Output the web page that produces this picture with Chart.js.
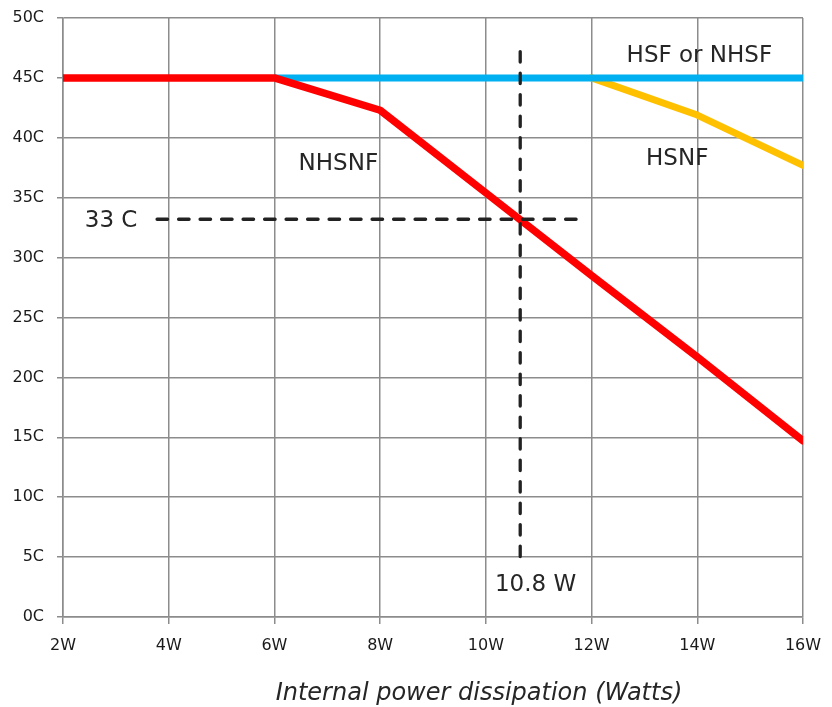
<!DOCTYPE html>
<html>
<head>
<meta charset="utf-8">
<script src="https://cdn.jsdelivr.net/npm/chart.js@4/dist/chart.umd.min.js"></script>
<style>
  html, body { margin: 0; padding: 0; background: #ffffff; }
  #wrap { width: 832px; height: 707px; }
</style>
</head>
<body>
<div id="wrap"><canvas id="c" width="832" height="707"></canvas></div>
<script>
// ---- data ----
const xTicks = [2, 4, 6, 8, 10, 12, 14, 16];          // Watts
const yTicks = [0, 5, 10, 15, 20, 25, 30, 35, 40, 45, 50]; // Celsius

const nhsnfX = [2, 6, 8, 10, 12, 14, 16];
const nhsnfY = [45, 45, 42.3, 35.4, 28.5, 21.7, 14.7];

const hsfX = [6, 16];
const hsfY = [45, 45];

const hsnfX = [12, 14, 16];
const hsnfY = [45, 41.9, 37.7];

const guideVX = [10.65, 10.65];
const guideVY = [47.2, 4.4];
const guideHX = [3.78, 11.75];
const guideHY = [33.2, 33.2];

const labelTexts = ["HSF or NHSF", "HSNF", "NHSNF", "33 C", "10.8 W"];
const labelX     = [14.04, 13.62, 7.21, 2.91, 10.94];
const labelY     = [46.85, 38.25, 37.85, 33.05, 2.7];

const axisTitle = "Internal power dissipation (Watts)";
const axisTitleX = 9.87;

function pts(xs, ys) { return xs.map((x, i) => ({ x: x, y: ys[i] })); }

const FONT = "'DejaVu Sans', Verdana, sans-serif";

const textPlugin = {
  id: 'texts',
  afterDraw(chart) {
    const ctx = chart.ctx;
    const xs = chart.scales.x, ys = chart.scales.y;
    ctx.save();
    ctx.fillStyle = '#262626';
    ctx.textAlign = 'center';
    ctx.textBaseline = 'middle';
    ctx.font = '23px ' + FONT;
    labelTexts.forEach((t, i) => {
      ctx.fillText(t, xs.getPixelForValue(labelX[i]), ys.getPixelForValue(labelY[i]));
    });
    ctx.font = 'italic 24px ' + FONT;
    ctx.fillText(axisTitle, xs.getPixelForValue(axisTitleX), 694);
    ctx.restore();
  }
};

const common = { pointRadius: 0, pointHoverRadius: 0, fill: false, tension: 0,
                 borderCapStyle: 'round', borderJoinStyle: 'round' };

new Chart(document.getElementById('c'), {
  type: 'line',
  data: {
    datasets: [
      Object.assign({ data: pts(guideVX, guideVY), borderColor: '#222222', borderWidth: 3.3,
                      borderDash: [10.5, 11] }, common),
      Object.assign({ data: pts(guideHX, guideHY), borderColor: '#222222', borderWidth: 3.3,
                      borderDash: [10.5, 11] }, common),
      Object.assign({ label: 'NHSNF', data: pts(nhsnfX, nhsnfY), borderColor: '#ff0000', borderWidth: 7.5 }, common),
      Object.assign({ label: 'HSF or NHSF', data: pts(hsfX, hsfY), borderColor: '#00b0f0', borderWidth: 7 }, common, { borderCapStyle: 'butt' }),
      Object.assign({ label: 'HSNF', data: pts(hsnfX, hsnfY), borderColor: '#ffc000', borderWidth: 7 }, common)
    ]
  },
  options: {
    responsive: false,
    animation: false,
    layout: { padding: { left: 0, right: 29, top: 18, bottom: 0 } },
    plugins: { legend: { display: false }, tooltip: { enabled: false }, title: { display: false } },
    scales: {
      x: {
        type: 'linear', min: xTicks[0], max: xTicks[xTicks.length - 1],
        afterBuildTicks: s => { s.ticks = xTicks.map(v => ({ value: v })); },
        afterFit: s => { s.height = 90; s.paddingLeft = 0; s.paddingRight = 0; },
        ticks: { callback: v => v + 'W', color: '#1a1a1a', font: { family: FONT, size: 16 }, padding: 12, maxRotation: 0 },
        grid: { color: '#8c8c8c', lineWidth: 1.5, tickLength: 7, drawTicks: true },
        border: { color: '#8c8c8c', width: 1.5 }
      },
      y: {
        type: 'linear', min: yTicks[0], max: yTicks[yTicks.length - 1],
        afterBuildTicks: s => { s.ticks = yTicks.map(v => ({ value: v })); },
        afterFit: s => { s.width = 63; s.paddingTop = 0; s.paddingBottom = 0; },
        ticks: { callback: v => v + 'C', color: '#1a1a1a', font: { family: FONT, size: 16 }, padding: 13 },
        grid: { color: '#8c8c8c', lineWidth: 1.5, tickLength: 6, drawTicks: true },
        border: { color: '#8c8c8c', width: 1.5 }
      }
    }
  },
  plugins: [textPlugin]
});
</script>
</body>
</html>
